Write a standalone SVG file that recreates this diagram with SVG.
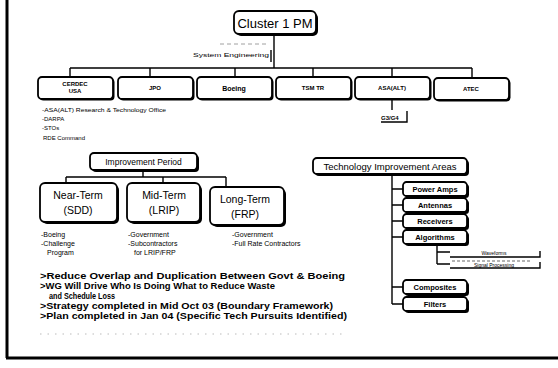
<svg xmlns="http://www.w3.org/2000/svg" width="558" height="368" viewBox="0 0 558 368">
<style>
text{font-family:"Liberation Sans",Arial,sans-serif;fill:#000}
.sh{fill:#000}
.bx{fill:#fff;stroke:#000;stroke-width:1.8}
.ln{fill:none;stroke:#000;stroke-width:1.4}
.t13{font-size:13px}
.t11{font-size:10.5px}
.t8b{font-size:7.5px;font-weight:bold}
.t6b{font-size:6px;font-weight:bold}
.t6{font-size:6px}
.t7{font-size:7px}
.t5{font-size:5px}
.big{font-size:9.5px;font-weight:bold}
.c{text-anchor:middle}
</style>
<rect width="558" height="368" fill="#fff"/>
<g id="frame">
<line x1="7" y1="0" x2="7" y2="358" stroke="#000" stroke-width="3"/>
<line x1="6" y1="358" x2="558" y2="358" stroke="#000" stroke-width="3"/>
</g>
<g id="connectors">
<path class="ln" d="M274 35V68M70 68H472M70 68V77M150 68V77M235 68V77M313 68V77M392 68V77M472 68V77"/>
<path class="ln" d="M271 50V62"/>
<path class="ln" d="M392 99V110M381 122H407V111"/>
<path class="ln" d="M143 170V177M66 177H226M66 177V183M163 177V183M226 177V187"/>
<path class="ln" d="M392 174V304M392 189H403M392 205H403M392 221H403M392 237H403M392 287H403M392 304H403"/>
<path class="ln" d="M437 244V264M437 252H450M437 264H450"/>
<path class="ln" d="M450 257H540V251M450 268H540V262"/>
<path fill="none" stroke="#000" stroke-width="0.6" stroke-dasharray="3 2" d="M452 261H530"/>
</g>
<g id="sys-eng">
<path fill="none" stroke="#888" stroke-width="0.8" stroke-dasharray="4 3" d="M220 44H266"/>
<text class="t6" x="193" y="57" textLength="76" lengthAdjust="spacingAndGlyphs">System Engineering</text>
</g>
<g id="cluster">
<rect class="sh" x="236" y="13" width="82" height="23" rx="5"/>
<rect class="bx" x="234" y="11" width="82" height="23" rx="5"/>
<text class="t13 c" x="275" y="27.5">Cluster 1 PM</text>
</g>
<g id="cerdec">
<rect class="sh" x="39.5" y="78.5" width="75" height="22" rx="4"/>
<rect class="bx" x="38" y="77" width="75" height="22" rx="4"/>
<text class="t6b c" x="75" y="86">CERDEC</text>
<text class="t6b c" x="75" y="93">USA</text>
</g>
<g id="jpo">
<rect class="sh" x="119.5" y="78.5" width="75" height="22" rx="4"/>
<rect class="bx" x="118" y="77" width="75" height="22" rx="4"/>
<text class="t6b c" x="155" y="90">JPO</text>
</g>
<g id="boeing">
<rect class="sh" x="198.5" y="78.5" width="75" height="22" rx="4"/>
<rect class="bx" x="197" y="77" width="75" height="22" rx="4"/>
<text class="t7 c" x="234" y="91" font-weight="bold">Boeing</text>
</g>
<g id="tsm">
<rect class="sh" x="277.5" y="78.5" width="75" height="22" rx="4"/>
<rect class="bx" x="276" y="77" width="75" height="22" rx="4"/>
<text class="t6b c" x="313" y="90">TSM TR</text>
</g>
<g id="asaalt">
<rect class="sh" x="356.5" y="78.5" width="75" height="22" rx="4"/>
<rect class="bx" x="355" y="77" width="75" height="22" rx="4"/>
<text class="t6b c" x="392" y="90">ASA(ALT)</text>
</g>
<g id="atec">
<rect class="sh" x="435.5" y="79.5" width="75" height="22" rx="4"/>
<rect class="bx" x="434" y="78" width="75" height="22" rx="4"/>
<text class="t6b c" x="471" y="91">ATEC</text>
</g>
<g id="g3g4">
<text class="t6b" x="381" y="120">G3/G4</text>
</g>
<g id="left-list">
<text class="t6" x="42" y="112" textLength="124" lengthAdjust="spacingAndGlyphs">-ASA(ALT) Research &amp; Technology Office</text>
<text class="t6" x="42" y="121">-DARPA</text>
<text class="t6" x="42" y="130">-STOs</text>
<text class="t6" x="43" y="140">RDE Command</text>
</g>
<g id="improvement">
<rect class="sh" x="92" y="155" width="107" height="17" rx="4"/>
<rect class="bx" x="90" y="153" width="107" height="17" rx="4"/>
<text class="c" x="143.5" y="165" font-size="8.5">Improvement Period</text>
</g>
<g id="near">
<rect class="sh" x="42" y="185" width="77" height="39" rx="5"/>
<rect class="bx" x="40" y="183" width="77" height="39" rx="5"/>
<text class="t11 c" x="78" y="199">Near-Term</text>
<text class="t11 c" x="78" y="214">(SDD)</text>
</g>
<g id="mid">
<rect class="sh" x="129" y="185" width="73" height="39" rx="5"/>
<rect class="bx" x="127" y="183" width="73" height="39" rx="5"/>
<text class="t11 c" x="164" y="199">Mid-Term</text>
<text class="t11 c" x="164" y="214">(LRIP)</text>
</g>
<g id="long">
<rect class="sh" x="212" y="189" width="74" height="38" rx="5"/>
<rect class="bx" x="210" y="187" width="74" height="38" rx="5"/>
<text class="t11 c" x="245" y="203">Long-Term</text>
<text class="t11 c" x="245" y="218">(FRP)</text>
</g>
<g id="phase-lists">
<text class="t7" x="41" y="237">-Boeing</text>
<text class="t7" x="41" y="246">-Challenge</text>
<text class="t7" x="47" y="255">Program</text>
<text class="t7" x="128" y="237">-Government</text>
<text class="t7" x="128" y="246">-Subcontractors</text>
<text class="t7" x="134" y="255">for LRIP/FRP</text>
<text class="t7" x="232" y="237">-Government</text>
<text class="t7" x="232" y="246">-Full Rate Contractors</text>
</g>
<g id="tech">
<rect class="sh" x="315" y="160" width="154" height="16" rx="4"/>
<rect class="bx" x="313" y="158" width="154" height="16" rx="4"/>
<text class="c" x="390" y="169.5" font-size="9.5">Technology Improvement Areas</text>
</g>
<g id="power">
<rect class="sh" x="405" y="184" width="64" height="14" rx="3.5"/>
<rect class="bx" x="403" y="182" width="64" height="14" rx="3.5"/>
<text class="t8b c" x="435" y="192">Power Amps</text>
</g>
<g id="antennas">
<rect class="sh" x="405" y="200" width="64" height="14" rx="3.5"/>
<rect class="bx" x="403" y="198" width="64" height="14" rx="3.5"/>
<text class="t8b c" x="435" y="208">Antennas</text>
</g>
<g id="receivers">
<rect class="sh" x="405" y="216" width="64" height="14" rx="3.5"/>
<rect class="bx" x="403" y="214" width="64" height="14" rx="3.5"/>
<text class="t8b c" x="435" y="224">Receivers</text>
</g>
<g id="algorithms">
<rect class="sh" x="405" y="232" width="64" height="14" rx="3.5"/>
<rect class="bx" x="403" y="230" width="64" height="14" rx="3.5"/>
<text class="t8b c" x="435" y="240">Algorithms</text>
</g>
<g id="waveforms">
<text class="t5 c" x="494" y="255">Waveforms</text>
</g>
<g id="signal">
<text class="t5 c" x="494" y="266.5">Signal Processing</text>
</g>
<g id="composites">
<rect class="sh" x="405" y="282" width="64" height="14" rx="3.5"/>
<rect class="bx" x="403" y="280" width="64" height="14" rx="3.5"/>
<text class="t8b c" x="435" y="290">Composites</text>
</g>
<g id="filters">
<rect class="sh" x="405" y="299" width="64" height="14" rx="3.5"/>
<rect class="bx" x="403" y="297" width="64" height="14" rx="3.5"/>
<text class="t8b c" x="435" y="307">Filters</text>
</g>
<g id="bullets">
<text class="big" x="40" y="279" textLength="305" lengthAdjust="spacingAndGlyphs">&gt;Reduce Overlap and Duplication Between Govt &amp; Boeing</text>
<text class="big" x="40" y="289" textLength="235" lengthAdjust="spacingAndGlyphs">&gt;WG Will Drive Who Is Doing What to Reduce Waste</text>
<text class="big" x="49" y="299" textLength="66" lengthAdjust="spacingAndGlyphs">and Schedule Loss</text>
<text class="big" x="40" y="309" textLength="293" lengthAdjust="spacingAndGlyphs">&gt;Strategy completed in Mid Oct 03 (Boundary Framework)</text>
<text class="big" x="40" y="319" textLength="307" lengthAdjust="spacingAndGlyphs">&gt;Plan completed in Jan 04 (Specific Tech Pursuits Identified)</text>
</g>
<g id="noise">
<path fill="none" stroke="#aaa" stroke-width="0.8" stroke-dasharray="1.5 6" d="M40 334H345"/>
</g>
</svg>
